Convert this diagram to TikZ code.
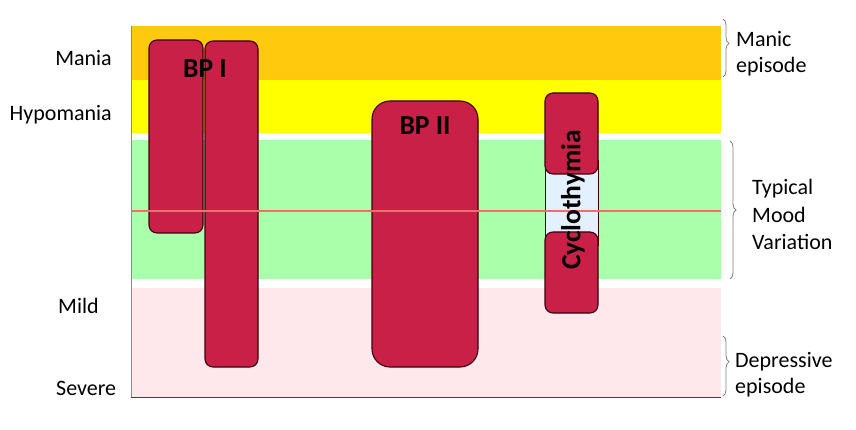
\documentclass[tikz,border=0pt]{standalone}
\usepackage{fontspec}
\setmainfont{Carlito}
\usetikzlibrary{decorations.pathreplacing}

\begin{document}
\begin{tikzpicture}[x=1pt,y=-1pt,
  side/.style={inner sep=0pt,font=\fontsize{22}{26}\selectfont},
  barname/.style={inner sep=0pt,font=\fontsize{27.5}{32}\selectfont\bfseries},
  bar/.style={draw=barEdge,fill=barRed,line width=1.1pt},
  brc/.style={draw=black!50,line width=0.8pt,decorate,decoration={brace,amplitude=6pt}}]
\definecolor{maniaOrange}{RGB}{255,201,14}
\definecolor{hypoYellow}{RGB}{255,255,0}
\definecolor{moodGreen}{RGB}{170,255,170}
\definecolor{depPink}{RGB}{255,232,236}
\definecolor{barRed}{RGB}{200,32,70}
\definecolor{barEdge}{RGB}{60,0,12}
\definecolor{cycBlue}{RGB}{226,240,255}
\definecolor{midLine}{RGB}{240,110,110}
\useasboundingbox (0,0) rectangle (856,430);

\fill[maniaOrange] (131,26) rectangle (721,80);
\fill[hypoYellow] (131,80) rectangle (721,133);
\fill[moodGreen] (131,140) rectangle (721,279);
\fill[depPink] (131,288) rectangle (721,397);
\draw[black!45,line width=0.8pt] (131,26) -- (131,397);
\draw[black!75,line width=0.8pt] (131,397) -- (721,397);

\draw[bar,rounded corners=8pt] (149,40) rectangle (203,233);
\draw[bar,rounded corners=8pt] (205,41) rectangle (258,367);
\draw[bar,rounded corners=18pt] (372,101) rectangle (478,367);
\draw[fill=cycBlue,draw=barEdge,line width=0.8pt] (545,160) rectangle (598,245);
\draw[bar,rounded corners=8pt] (545,93) rectangle (598,174);
\draw[bar,rounded corners=8pt] (545,232) rectangle (598,313);

\draw[midLine,line width=1.6pt] (131,211) -- (721,211);

\node[barname,anchor=base] (bpone) at (205,78) {BP I};
\node[barname,anchor=base] (bptwo) at (425,135) {BP II};
\node[barname,rotate=90] (cyclo) at (573,200) {Cyclothymia};

\node[side,anchor=base east] (mania) at (112,66) {Mania};
\node[side,anchor=base east] (hypomania) at (112,121) {Hypomania};
\node[side,anchor=base west] (mild) at (58,313) {Mild};
\node[side,anchor=base west] (severe) at (56,395) {Severe};

\draw[brc,decoration={aspect=0.42}] (723,19) -- (723,77);
\draw[brc] (730,141) -- (730,279);
\draw[brc,decoration={aspect=0.43}] (723,336) -- (723,396);

\node[side,anchor=base west] (manic) at (736,47) {Manic};
\node[side,anchor=base west] (manicep) at (736,73) {episode};
\node[side,anchor=base west] (typical) at (752,195) {Typical};
\node[side,anchor=base west] (mood) at (752,223) {Mood};
\node[side,anchor=base west] (variation) at (752,250) {Variation};
\node[side,anchor=base west] (depressive) at (735,367) {Depressive};
\node[side,anchor=base west] (depep) at (735,393) {episode};
\end{tikzpicture}
\end{document}
